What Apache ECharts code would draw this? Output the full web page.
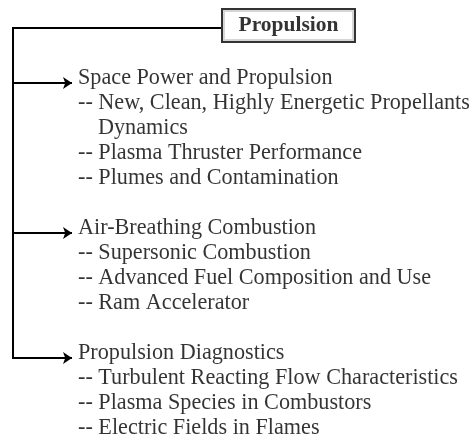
<!DOCTYPE html>
<html>
<head>
<meta charset="utf-8">
<script src="https://cdn.jsdelivr.net/npm/echarts@6/dist/echarts.min.js"></script>
<style>
html,body{margin:0;padding:0;background:#fff;}
#chart{width:472px;height:441px;}
</style>
</head>
<body>
<div id="chart"></div>
<script>
// ---- content ----
const rootLabel = 'Propulsion';
const groupTitles = ['Space Power and Propulsion', 'Air-Breathing Combustion', 'Propulsion Diagnostics'];
const spaceItems = ['-- New, Clean, Highly Energetic Propellants\nDynamics', '-- Plasma Thruster Performance', '-- Plumes and Contamination'];
const airItems = ['-- Supersonic Combustion', '-- Advanced Fuel Composition and Use', '-- Ram Accelerator'];
const diagItems = ['-- Turbulent Reacting Flow Characteristics', '-- Plasma Species in Combustors', '-- Electric Fields in Flames'];
const groupItems = [spaceItems, airItems, diagItems];

// ---- layout ----
const W = 472, H = 441;
const FONT = '"Liberation Serif", "Times New Roman", serif';
const FS = 22.2;
const FS_BOX = 21.5;
const lineH = 25;
const firstY = 78;
const groupGapRows = 2;
const trunkX = 13;
const textX = 78;
const contIndent = 20;
const arrowTipX = 72;
const arrowDy = 5;
const box = {x0: 221, x1: 356, y0: 8, y1: 43};
const topLineY = 28;

const textPts = [];
const arrowLines = [];
let y = firstY;
let lastArrowY = 0;
groupTitles.forEach((t, gi) => {
  textPts.push({value: [textX, y], name: t});
  const ay = y + arrowDy;
  arrowLines.push({coords: [[trunkX, ay], [arrowTipX, ay]]});
  lastArrowY = ay;
  y += lineH;
  groupItems[gi].forEach(item => {
    item.split('\n').forEach((part, pi) => {
      textPts.push({value: [textX + (pi > 0 ? contIndent : 0), y], name: part});
      y += lineH;
    });
  });
  y += lineH * (groupGapRows - 1);
});

const connectorLines = [
  {coords: [[trunkX, topLineY], [box.x0, topLineY]]},
  {coords: [[trunkX, topLineY - 1], [trunkX, lastArrowY + 1]]}
];

const chart = echarts.init(document.getElementById('chart'), null, {renderer: 'canvas'});
chart.setOption({
  backgroundColor: '#ffffff',
  animation: false,
  grid: {left: 0, right: 0, top: 0, bottom: 0},
  xAxis: {type: 'value', min: 0, max: W, show: false},
  yAxis: {type: 'value', min: 0, max: H, inverse: true, show: false},
  series: [
    {
      type: 'lines', coordinateSystem: 'cartesian2d', polyline: false,
      symbol: ['none', 'none'],
      lineStyle: {color: '#000', width: 2, opacity: 1},
      data: connectorLines, z: 2
    },
    {
      type: 'lines', coordinateSystem: 'cartesian2d',
      symbol: ['none', 'arrow'], symbolSize: [0, 9],
      lineStyle: {color: '#000', width: 2, opacity: 1},
      data: arrowLines, z: 2
    },
    {
      type: 'scatter', symbolSize: 0, silent: true,
      data: textPts,
      label: {
        show: true, position: 'right', distance: 0,
        formatter: p => p.name,
        fontFamily: FONT, fontSize: FS, color: '#000'
      },
      z: 3
    },
    {
      type: 'scatter', symbolSize: 0, silent: true,
      data: [{value: [(box.x0 + box.x1) / 2, (box.y0 + box.y1) / 2], name: rootLabel}],
      label: {
        show: true, position: 'inside',
        formatter: p => p.name,
        fontFamily: FONT, fontSize: FS_BOX, fontWeight: 'bold', color: '#000',
        backgroundColor: '#fff', borderColor: '#000', borderWidth: 2,
        width: box.x1 - box.x0 - 4, height: box.y1 - box.y0 - 4,
        align: 'center', verticalAlign: 'middle', lineHeight: box.y1 - box.y0 - 4
      },
      z: 4
    }
  ]
});
</script>
</body>
</html>
